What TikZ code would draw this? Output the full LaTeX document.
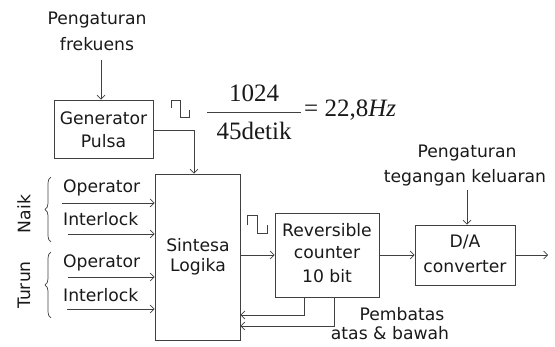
\documentclass[tikz,border=0pt]{standalone}
\usepackage{fontspec}
\setmainfont{DejaVu Sans}
\newfontfamily\mathserif{Liberation Serif}
\usetikzlibrary{arrows.meta,decorations.pathreplacing}
\begin{document}
\begin{tikzpicture}[x=1pt,y=-1pt,
  every node/.style={inner sep=0pt,font=\fontsize{17.2}{19}\selectfont,text=black!90},
  blk/.style={draw=black!75,line width=0.8pt},
  ln/.style={draw=black!75,line width=0.8pt},
  arr/.style={ln,-{Straight Barb[length=4pt,width=8pt,line width=0.7pt]}},
  lbl/.style={anchor=center},
  inlbl/.style={anchor=west}
]
\useasboundingbox (0,0) rectangle (555,347);
% boxes
\node[blk,minimum width=99pt,minimum height=58pt] (gen) at (103.5,129) {};
\node[lbl] (gen1) at (103.5,118) {Generator};
\node[lbl] (gen2) at (103.5,141) {Pulsa};
\node[blk,minimum width=85pt,minimum height=166pt] (sin) at (197.5,257) {};
\node[lbl] (sin1) at (198,245) {Sintesa};
\node[lbl] (sin2) at (198,267) {Logika};
\node[blk,minimum width=104pt,minimum height=84pt] (cnt) at (327,255) {};
\node[lbl] (cnt1) at (327,230) {Reversible};
\node[lbl] (cnt2) at (327,253) {counter};
\node[lbl] (cnt3) at (327,276) {10 bit};
\node[blk,minimum width=100pt,minimum height=60pt] (da) at (465,255) {};
\node[lbl] (da1) at (465,242) {D/A};
\node[lbl] (da2) at (465,267) {converter};
% top labels
\node[lbl] (pf1) at (97,20) {Pengaturan};
\node[lbl] (pf2) at (97,44) {frekuens};
\coordinate (pfa) at (101,60);
\draw[arr] (pfa) -- (pfa |- gen.north);
\node[lbl] (pt1) at (467,153) {Pengaturan};
\node[lbl] (pt2) at (465,178) {tegangan keluaran};
\coordinate (pta) at (467,190);
\draw[arr] (pta) -- (pta |- da.north);
% generator to sintesa
\coordinate (g1) at (194,130);
\draw[arr] (gen.east |- g1) -- (g1) -- (g1 |- sin.north);
% pulse symbols
\draw[ln,line width=0.7pt] (171,108) -- (171,100) -- (180,100) -- (180,117) -- (189,117) -- (189,110);
\draw[ln,line width=0.7pt] (247,225) -- (247,215) -- (257,215) -- (257,233) -- (267,233) -- (267,225);
% formula
\node[anchor=center,font=\mathserif\fontsize{25}{27}\selectfont] (num) at (254,93) {1024};
\node[anchor=center,font=\mathserif\fontsize{25}{27}\selectfont] (den) at (254,131) {45detik};
\draw[ln,line width=0.9pt] (207,112) -- (301,112);
\node[anchor=west,font=\mathserif\fontsize{25}{27}\selectfont] (res) at (304,110) {= 22,8\textit{Hz}};
% inputs
\node[inlbl] (op1) at (63,188) {Operator};
\node[inlbl] (il1) at (63,219) {Interlock};
\node[inlbl] (op2) at (63,263) {Operator};
\node[inlbl] (il2) at (63,295) {Interlock};
\coordinate (a1) at (62,203);
\coordinate (a2) at (68,234);
\coordinate (a3) at (68,277);
\coordinate (a4) at (67,309);
\draw[arr] (a1) -- (a1 -| sin.west);
\draw[arr] (a2) -- (a2 -| sin.west);
\draw[arr] (a3) -- (a3 -| sin.west);
\draw[arr] (a4) -- (a4 -| sin.west);
% braces
\coordinate (b1t) at (51,177); \coordinate (b1b) at (51,242);
\coordinate (b2t) at (51,252); \coordinate (b2b) at (51,318);
\draw[ln,line width=0.7pt,decorate,decoration={brace,amplitude=6pt}] (b1b) -- (b1t);
\draw[ln,line width=0.7pt,decorate,decoration={brace,amplitude=6pt}] (b2b) -- (b2t);
\node[lbl,rotate=90] (naik) at (24,214) {Naik};
\node[lbl,rotate=90] (turun) at (24,285) {Turun};
% main flow
\coordinate (m) at (240,255);
\draw[arr] (sin.east |- m) -- (cnt.west |- m);
\draw[arr] (cnt.east |- m) -- (da.west |- m);
\coordinate (out) at (548,255);
\draw[arr] (da.east |- m) -- (out);
% feedback
\coordinate (f1) at (304,315);
\coordinate (f2) at (334,326);
\draw[arr] (f1 |- cnt.south) -- (f1) -- (f1 -| sin.east);
\draw[arr] (f2 |- cnt.south) -- (f2) -- (f2 -| sin.east);
\node[lbl] (pb1) at (402,314) {Pembatas};
\node[lbl] (pb2) at (390,333) {atas \& bawah};
\end{tikzpicture}
\end{document}
